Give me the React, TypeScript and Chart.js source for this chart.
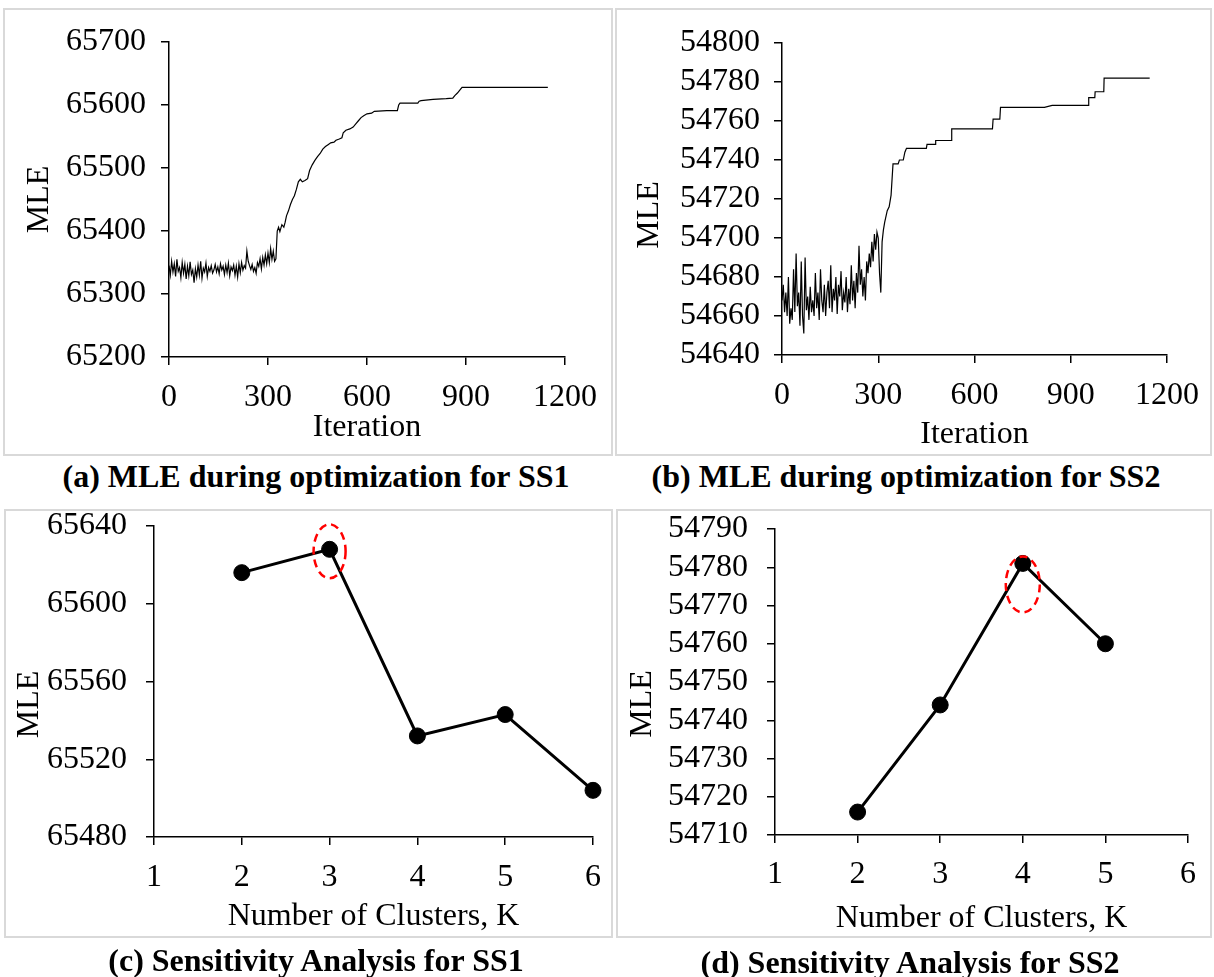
import React, { useEffect, useRef } from "react";
import { Chart, registerables } from "chart.js";

Chart.register(...registerables);

const FONT = "'Liberation Serif', 'Times New Roman', serif";

// ---------- (a) MLE during optimization for SS1 ----------
const ss1EarlyStep = 4; // early, noisy part sampled every 4 iterations from 0
const ss1EarlyMLE = [
  65345, 65330, 65352, 65335, 65348, 65328, 65355, 65336, 65342, 65326,
  65350, 65333, 65347, 65324, 65344, 65329, 65351, 65331, 65338, 65318,
  65340, 65327, 65346, 65330, 65352, 65325, 65341, 65335, 65349, 65328,
  65342, 65336, 65345, 65333, 65338, 65347, 65335, 65343, 65332, 65348,
  65338, 65344, 65331, 65346, 65334, 65349, 65329, 65343, 65337, 65346,
  65330, 65344, 65327, 65348, 65334, 65350, 65338, 65345, 65341, 65368,
  65352, 65345, 65339, 65347, 65336, 65342, 65333, 65350, 65344, 65356,
  65340, 65358, 65346, 65362, 65348, 65365, 65350, 65372, 65355, 65368,
  65352, 65356,
];
const ss1LateIter = [
  328, 332, 336, 342, 348, 352, 356, 362, 368, 374, 380, 386, 392, 398, 404,
  412, 420, 426, 434, 442, 450, 458, 466, 474, 482, 490, 500, 506, 516, 524,
  528, 536, 548, 558, 566, 574, 582, 590, 600, 614, 622, 660, 692, 696, 700,
  754, 758, 764, 800, 840, 860, 866, 874, 880, 888, 1148,
];
const ss1LateMLE = [
  65400, 65406, 65399, 65410, 65406, 65414, 65424, 65432, 65442, 65450, 65456, 65466, 65478, 65482, 65478,
  65480, 65483, 65496, 65505, 65512, 65518, 65523, 65530, 65534, 65537, 65540, 65541, 65544, 65546, 65548,
  65556, 65560, 65562, 65565, 65570, 65575, 65580, 65583, 65586, 65587, 65590, 65591, 65591, 65600, 65603,
  65603, 65606, 65607, 65609, 65610, 65611, 65615, 65619, 65623, 65628, 65628,
];
const ss1IterTicks = [0, 300, 600, 900, 1200];
const ss1MleTicks = [65200, 65300, 65400, 65500, 65600, 65700];

// ---------- (b) MLE during optimization for SS2 ----------
const ss2EarlyStep = 4;
const ss2EarlyMLE = [
  54668, 54676, 54662, 54672, 54660, 54680, 54656, 54664, 54658, 54684,
  54662, 54692, 54665, 54672, 54655, 54688, 54660, 54651, 54690, 54663,
  54670, 54658, 54675, 54662, 54668, 54660, 54682, 54664, 54672, 54658,
  54684, 54668, 54662, 54676, 54660, 54672, 54678, 54664, 54686, 54662,
  54674, 54668, 54680, 54661, 54676, 54670, 54683, 54663, 54672, 54667,
  54680, 54662, 54674, 54666, 54686, 54668, 54678, 54664, 54682, 54672,
  54696, 54676, 54684, 54670, 54680, 54668, 54688, 54682, 54692, 54685,
  54698, 54688, 54702, 54694, 54703, 54700, 54682, 54672, 54698, 54704,
];
const ss2LateIter = [
  320, 328, 334, 340, 346, 362, 366, 378, 383, 388, 450, 452, 478, 479, 528,
  529, 656, 658, 679, 681, 818, 842, 954, 956, 975, 976, 1003, 1004, 1146,
];
const ss2LateMLE = [
  54708, 54714, 54716, 54722, 54738, 54738, 54740, 54740, 54744, 54746, 54746, 54748, 54748, 54750, 54750,
  54756, 54756, 54761, 54761, 54767, 54767, 54768, 54768, 54772, 54772, 54775, 54775, 54782, 54782,
];
const ss2IterTicks = [0, 300, 600, 900, 1200];
const ss2MleTicks = [54640, 54660, 54680, 54700, 54720, 54740, 54760, 54780, 54800];

// ---------- (c) Sensitivity analysis for SS1 ----------
const ss1K = [2, 3, 4, 5, 6];
const ss1KMLE = [65616, 65628, 65532, 65543, 65504];
const ss1KTicks = [1, 2, 3, 4, 5, 6];
const ss1KMleTicks = [65480, 65520, 65560, 65600, 65640];
const ss1BestK = 3;
const ss1BestCenter = 65627;

// ---------- (d) Sensitivity analysis for SS2 ----------
const ss2K = [2, 3, 4, 5];
const ss2KMLE = [54716, 54744, 54781, 54760];
const ss2KTicks = [1, 2, 3, 4, 5, 6];
const ss2KMleTicks = [54710, 54720, 54730, 54740, 54750, 54760, 54770, 54780, 54790];
const ss2BestK = 4;
const ss2BestCenter = 54775.5;

type Area = { left: number; top: number; right: number; bottom: number };

type PanelSpec = {
  points: { x: number; y: number }[];
  xTicks: number[];
  yTicks: number[];
  xTitle: string;
  yTitle: string;
  w: number;
  h: number;
  area: Area;
  xTickPad: number;
  xTitlePadBottom: number;
  yTickPad: number;
  yTitleX: number;
  yTitleDy: number;
  markers: boolean;
  ellipse?: { k: number; v: number; rx: number; ry: number };
};

function axisCommon(ticks: number[], pad: number) {
  return {
    type: "linear" as const,
    min: ticks[0],
    max: ticks[ticks.length - 1],
    afterBuildTicks: (s: any) => {
      s.ticks = ticks.map((v) => ({ value: v }));
    },
    ticks: {
      autoSkip: false,
      maxRotation: 0,
      minRotation: 0,
      color: "#000",
      padding: pad,
      font: { family: FONT, size: 32 },
      callback: (v: any) => String(v),
    },
    grid: {
      display: true,
      drawOnChartArea: false,
      drawTicks: true,
      tickLength: 8,
      color: "#000",
      lineWidth: 1.5,
    },
    border: { display: true, color: "#000", width: 1.5 },
  };
}

function buildConfig(p: PanelSpec): any {
  const plugins: any[] = [
    {
      id: "yTitleText",
      afterDraw(chart: any) {
        const { ctx, chartArea } = chart;
        ctx.save();
        ctx.translate(p.yTitleX, (chartArea.top + chartArea.bottom) / 2 + p.yTitleDy);
        ctx.rotate(-Math.PI / 2);
        ctx.font = `32px ${FONT}`;
        ctx.fillStyle = "#000";
        ctx.textAlign = "center";
        ctx.textBaseline = "middle";
        ctx.fillText(p.yTitle, 0, 0);
        ctx.restore();
      },
    },
  ];
  if (p.ellipse) {
    const e = p.ellipse;
    plugins.push({
      id: "bestEllipse",
      afterDatasetsDraw(chart: any) {
        const { ctx, scales } = chart;
        const cx = scales.x.getPixelForValue(e.k);
        const cy = scales.y.getPixelForValue(e.v);
        ctx.save();
        ctx.strokeStyle = "#ff0000";
        ctx.lineWidth = 2.5;
        ctx.setLineDash([8, 5]);
        ctx.beginPath();
        ctx.ellipse(cx, cy, e.rx, e.ry, 0, 0, Math.PI * 2);
        ctx.stroke();
        ctx.restore();
      },
    });
  }
  const xAxis: any = {
    ...axisCommon(p.xTicks, p.xTickPad),
    title: {
      display: true,
      text: p.xTitle,
      color: "#000",
      font: { family: FONT, size: 32 },
      padding: { top: 0, bottom: p.xTitlePadBottom },
    },
    afterFit: (s: any) => {
      s.height = p.h - p.area.bottom;
      s.paddingLeft = 0;
      s.paddingRight = 0;
    },
  };
  const yAxis: any = {
    ...axisCommon(p.yTicks, p.yTickPad),
    title: { display: false },
    afterFit: (s: any) => {
      s.width = p.area.left;
      s.paddingTop = 0;
      s.paddingBottom = 0;
    },
  };
  return {
    type: "line",
    data: {
      datasets: [
        {
          data: p.points,
          borderColor: "#000",
          backgroundColor: "#000",
          borderWidth: p.markers ? 3 : 1.2,
          pointRadius: p.markers ? 8 : 0,
          pointBackgroundColor: "#000",
          pointBorderColor: "#000",
          pointBorderWidth: 1,
          tension: 0,
          fill: false,
          clip: false,
        },
      ],
    },
    options: {
      responsive: false,
      maintainAspectRatio: false,
      animation: false,
      events: [],
      layout: {
        padding: { left: 0, top: p.area.top, right: p.w - p.area.right, bottom: 0 },
      },
      plugins: { legend: { display: false }, tooltip: { enabled: false }, title: { display: false } },
      scales: { x: xAxis, y: yAxis },
    },
    plugins,
  };
}

function ChartCanvas({ left, top, spec }: { left: number; top: number; spec: PanelSpec }) {
  const ref = useRef<HTMLCanvasElement>(null);
  useEffect(() => {
    const chart = new Chart(ref.current as HTMLCanvasElement, buildConfig(spec));
    return () => chart.destroy();
  }, []);
  return (
    <canvas
      ref={ref}
      width={spec.w}
      height={spec.h}
      style={{ position: "absolute", left, top, width: spec.w, height: spec.h }}
    />
  );
}

function early(values: number[], step: number) {
  return values.map((y, i) => ({ x: i * step, y }));
}
function pairs(xs: number[], ys: number[]) {
  return xs.map((x, i) => ({ x, y: ys[i] }));
}

const specA: PanelSpec = {
  points: [...early(ss1EarlyMLE, ss1EarlyStep), ...pairs(ss1LateIter, ss1LateMLE)],
  xTicks: ss1IterTicks,
  yTicks: ss1MleTicks,
  xTitle: "Iteration",
  yTitle: "MLE",
  w: 613,
  h: 457,
  area: { left: 169, top: 42, right: 565, bottom: 357 },
  xTickPad: 13,
  xTitlePadBottom: 10,
  yTickPad: 15,
  yTitleX: 40,
  yTitleDy: 0,
  markers: false,
};

const specB: PanelSpec = {
  points: [...early(ss2EarlyMLE, ss2EarlyStep), ...pairs(ss2LateIter, ss2LateMLE)],
  xTicks: ss2IterTicks,
  yTicks: ss2MleTicks,
  xTitle: "Iteration",
  yTitle: "MLE",
  w: 601,
  h: 457,
  area: { left: 169, top: 43, right: 554, bottom: 355 },
  xTickPad: 13,
  xTitlePadBottom: 3,
  yTickPad: 14,
  yTitleX: 37,
  yTitleDy: 16,
  markers: false,
};

const specC: PanelSpec = {
  points: pairs(ss1K, ss1KMLE),
  xTicks: ss1KTicks,
  yTicks: ss1KMleTicks,
  xTitle: "Number of Clusters, K",
  yTitle: "MLE",
  w: 613,
  h: 477,
  area: { left: 154, top: 26, right: 593, bottom: 337 },
  xTickPad: 13,
  xTitlePadBottom: 41,
  yTickPad: 19,
  yTitleX: 30,
  yTitleDy: 23,
  markers: true,
  ellipse: { k: ss1BestK, v: ss1BestCenter, rx: 16, ry: 27 },
};

const specD: PanelSpec = {
  points: pairs(ss2K, ss2KMLE),
  xTicks: ss2KTicks,
  yTicks: ss2KMleTicks,
  xTitle: "Number of Clusters, K",
  yTitle: "MLE",
  w: 601,
  h: 477,
  area: { left: 162, top: 29, right: 575, bottom: 335 },
  xTickPad: 12,
  xTitlePadBottom: 39,
  yTickPad: 19,
  yTitleX: 30,
  yTitleDy: 22,
  markers: true,
  ellipse: { k: ss2BestK, v: ss2BestCenter, rx: 17, ry: 28 },
};

const boxStyle = (left: number, top: number, width: number, height: number): React.CSSProperties => ({
  position: "absolute",
  left,
  top,
  width,
  height,
  border: "2px solid #d9d9d9",
  boxSizing: "border-box",
});

const captionStyle = (cx: number, cy: number): React.CSSProperties => ({
  position: "absolute",
  left: cx - 300,
  top: cy - 19,
  width: 600,
  height: 38,
  lineHeight: "38px",
  textAlign: "center",
  fontFamily: FONT,
  fontWeight: "bold",
  fontSize: 32,
  color: "#000",
  whiteSpace: "nowrap",
});

export default function App() {
  return (
    <div
      style={{
        position: "absolute",
        left: 0,
        top: 0,
        width: 1214,
        height: 977,
        background: "#fff",
        overflow: "hidden",
      }}
    >
      <div style={boxStyle(3, 8, 610, 448)} />
      <div style={boxStyle(615, 8, 597, 448)} />
      <div style={boxStyle(4, 509, 609, 429)} />
      <div style={boxStyle(616, 509, 596, 429)} />
      <ChartCanvas left={0} top={0} spec={specA} />
      <ChartCanvas left={613} top={0} spec={specB} />
      <ChartCanvas left={0} top={500} spec={specC} />
      <ChartCanvas left={613} top={500} spec={specD} />
      <div style={captionStyle(316, 476)}>(a) MLE during optimization for SS1</div>
      <div style={captionStyle(906, 476)}>(b) MLE during optimization for SS2</div>
      <div style={captionStyle(316, 960)}>(c) Sensitivity Analysis for SS1</div>
      <div style={captionStyle(910, 962)}>(d) Sensitivity Analysis for SS2</div>
    </div>
  );
}
